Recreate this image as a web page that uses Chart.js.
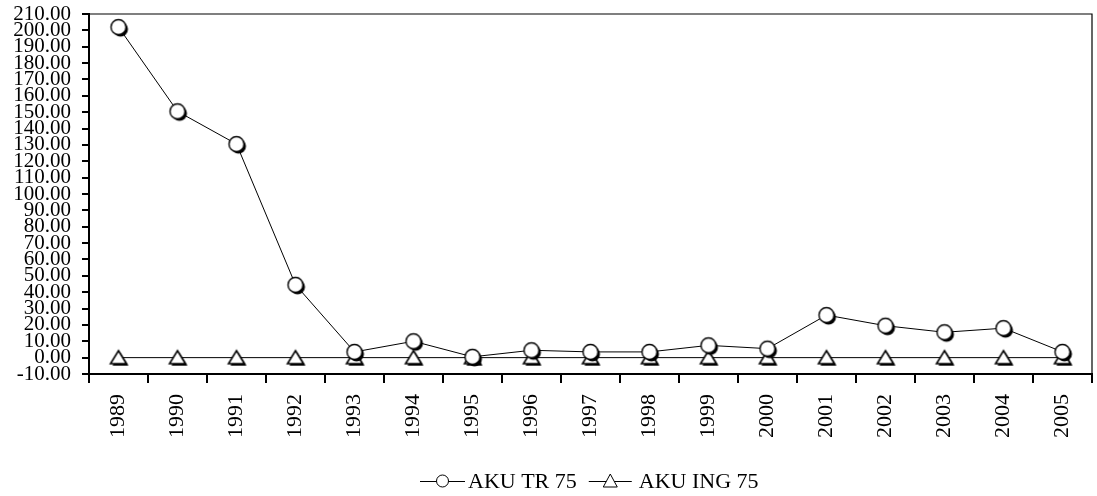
<!DOCTYPE html>
<html lang="en">
<head>
<meta charset="UTF-8">
<title>AKU TR 75 / AKU ING 75</title>
<script src="https://cdn.jsdelivr.net/npm/chart.js"></script>
<style>
    html, body { margin: 0; padding: 0; background: #fff; }
    #wrap { position: relative; width: 1097px; height: 496px; }
</style>
</head>
<body>
<div id="wrap"><canvas id="chart"></canvas></div>
<script>
// data
const years = ['1989', '1990', '1991', '1992', '1993', '1994', '1995', '1996', '1997',
               '1998', '1999', '2000', '2001', '2002', '2003', '2004', '2005'];
const akuTr75 = [202, 150.5, 130.5, 44.5, 3.5, 10, 0.5, 4.5, 3.5, 3.5, 7.5, 5.5, 26, 19.5, 15.5, 18, 3.5];
const akuIng75 = [0, 0, 0, 0, 0, 0, 0, 0, 0, 0, 0, 0, 0, 0, 0, 0, 0];
const seriesNames = ['AKU TR 75', 'AKU ING 75'];
const yMin = -10, yMax = 210, yStep = 10;

const FONT = "'Liberation Serif', 'Times New Roman', serif";

// marker images: white shape with a black offset shadow
function makeCircle() {
    const c = document.createElement('canvas');
    c.width = 22; c.height = 22;
    const g = c.getContext('2d');
    g.fillStyle = '#000';
    g.beginPath(); g.arc(13, 13, 7.5, 0, Math.PI * 2); g.fill();
    g.fillStyle = '#fff';
    g.strokeStyle = '#000';
    g.lineWidth = 1.4;
    g.beginPath(); g.arc(11, 11, 7.5, 0, Math.PI * 2); g.fill(); g.stroke();
    return c;
}
function triPath(g, cx, cy) {
    g.beginPath();
    g.moveTo(cx, cy - 7);
    g.lineTo(cx + 8, cy + 6);
    g.lineTo(cx - 8, cy + 6);
    g.closePath();
}
function makeTriangle() {
    const c = document.createElement('canvas');
    c.width = 22; c.height = 22;
    const g = c.getContext('2d');
    g.fillStyle = '#000';
    triPath(g, 13, 13); g.fill();
    g.fillStyle = '#fff';
    g.strokeStyle = '#000';
    g.lineWidth = 1.6;
    triPath(g, 11, 11); g.fill(); g.stroke();
    return c;
}

const circleImg = makeCircle();
const triImg = makeTriangle();

// top and right edges of the plot frame
const framePlugin = {
    id: 'frame',
    afterDraw(chart) {
        const a = chart.chartArea;
        const ctx = chart.ctx;
        ctx.save();
        ctx.strokeStyle = '#000';
        ctx.lineWidth = 1.2;
        ctx.beginPath();
        ctx.moveTo(a.left, a.top);
        ctx.lineTo(a.right, a.top);
        ctx.lineTo(a.right, a.bottom);
        ctx.stroke();
        ctx.restore();
    }
};

// legend drawn below the axis labels: —o— AKU TR 75  —^— AKU ING 75
const legendPlugin = {
    id: 'lineLegend',
    afterDraw(chart) {
        const ctx = chart.ctx;
        const y = 481;
        let x = 420;
        ctx.save();
        ctx.font = '22px ' + FONT;
        ctx.textBaseline = 'middle';
        ctx.fillStyle = '#000';
        ctx.strokeStyle = '#000';
        seriesNames.forEach((name, i) => {
            const w = i === 0 ? 45 : 43;
            ctx.lineWidth = 1;
            ctx.beginPath();
            ctx.moveTo(x, y + 0.5); ctx.lineTo(x + w, y + 0.5);
            ctx.stroke();
            const cx = x + w / 2;
            ctx.fillStyle = '#fff';
            ctx.beginPath();
            if (i === 0) {
                ctx.arc(cx, y, 6, 0, Math.PI * 2);
            } else {
                ctx.moveTo(cx, y - 7); ctx.lineTo(cx + 7, y + 6); ctx.lineTo(cx - 7, y + 6);
                ctx.closePath();
            }
            ctx.fill(); ctx.stroke();
            ctx.fillStyle = '#000';
            x += w + (i === 0 ? 3 : 7);
            ctx.fillText(name, x, y + 1);
            x += ctx.measureText(name).width + 12;
        });
        ctx.restore();
    }
};

new Chart(document.getElementById('chart'), {
    type: 'line',
    data: {
        labels: years,
        datasets: [{
            label: seriesNames[0],
            data: akuTr75,
            borderColor: '#000',
            borderWidth: 1,
            pointStyle: circleImg,
            tension: 0
        }, {
            label: seriesNames[1],
            data: akuIng75,
            borderColor: '#000',
            borderWidth: 1,
            pointStyle: triImg,
            tension: 0
        }]
    },
    options: {
        responsive: true,
        maintainAspectRatio: false,
        animation: false,
        layout: { padding: { top: 0, right: 0, left: 0, bottom: 0 } },
        plugins: {
            tooltip: { enabled: false },
            legend: { display: false }
        },
        scales: {
            x: {
                offset: true,
                afterFit(scale) {
                    scale.height = 122;
                    scale.paddingRight = 4;
                },
                grid: {
                    offset: true,
                    drawOnChartArea: false,
                    color: '#000',
                    lineWidth: 2,
                    tickLength: 9
                },
                border: { color: '#000', width: 2 },
                ticks: {
                    color: '#000',
                    font: { family: FONT, size: 22 },
                    minRotation: 90,
                    maxRotation: 90,
                    padding: 11,
                    autoSkip: false
                }
            },
            y: {
                min: yMin,
                max: yMax,
                afterFit(scale) {
                    scale.width = 89;
                    scale.paddingTop = 14;
                },
                grid: {
                    drawOnChartArea: false,
                    color: '#000',
                    lineWidth: 2,
                    tickLength: 7
                },
                border: { color: '#000', width: 2 },
                ticks: {
                    stepSize: yStep,
                    autoSkip: false,
                    color: '#000',
                    padding: 11,
                    font: { family: FONT, size: 21 },
                    callback: (v) => Number(v).toFixed(2)
                }
            }
        }
    },
    plugins: [framePlugin, legendPlugin]
});
</script>
</body>
</html>
